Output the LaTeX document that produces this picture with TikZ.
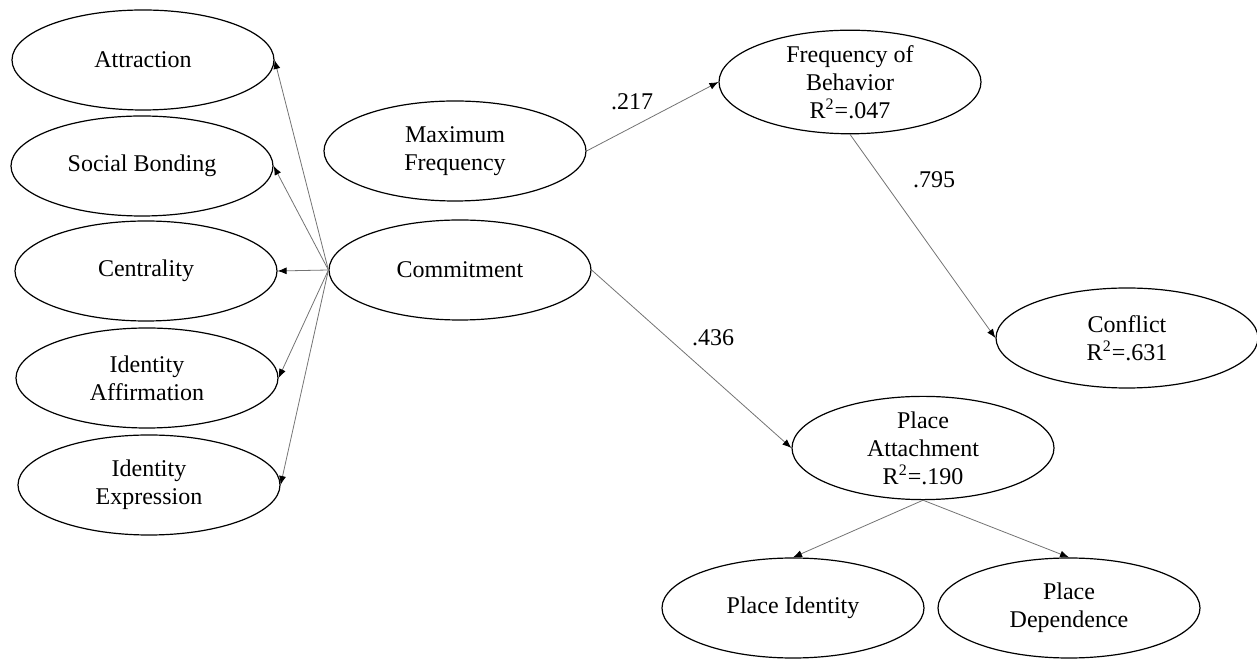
\documentclass[tikz,border=0pt]{standalone}
\usepackage{fontspec}
\setmainfont{Liberation Serif}
\usetikzlibrary{arrows.meta,shapes.geometric}

\begin{document}
\begin{tikzpicture}[x=5pt,y=5pt,
    latent/.style={draw, ellipse, line width=0.6pt, minimum width=131pt, minimum height=50pt,
      inner sep=0pt, align=center, font=\fontsize{12}{14}\selectfont},
    link/.style={draw=black!55, line width=0.4pt, -{Latex[length=4.5pt,width=3.5pt,color=black]}},
    coef/.style={font=\fontsize{12}{14}\selectfont}]
    \useasboundingbox (0,0) rectangle (125.7,65.8);

    % First-order dimensions
    \node[latent] (attr)  at (14.3,59.8) {Attraction};
    \node[latent] (soc)   at (14.2,49.2) {Social Bonding};
    \node[latent] (cent)  at (14.6,38.7) {Centrality};
    \node[latent] (idaff) at (14.7,28.0) {Identity\\Affirmation};
    \node[latent] (idexp) at (14.9,17.3) {Identity\\Expression};

    % Predictors
    \node[latent] (maxf) at (45.5,50.7) {Maximum\\Frequency};
    \node[latent] (comm) at (46.0,38.8) {Commitment};

    % Outcomes
    \node[latent] (freq)    at (85.0,57.6)  {Frequency of\\Behavior\\R\textsuperscript{2}=.047};
    \node[latent] (confl)   at (112.7,32.0) {Conflict\\R\textsuperscript{2}=.631};
    \node[latent] (pattach) at (92.3,21.0)  {Place\\Attachment\\R\textsuperscript{2}=.190};
    \node[latent] (pid)     at (79.3,5.0)   {Place Identity};
    \node[latent] (pdep)    at (106.9,5.0)  {Place\\Dependence};

    % Loadings
    \foreach \dim in {attr,soc,cent,idaff,idexp}
      \draw[link] (comm.west) -- (\dim.east);
    \draw[link] (pattach.south) -- (pid.north);
    \draw[link] (pattach.south) -- (pdep.north);

    % Structural paths
    \draw[link] (maxf.east) -- (freq.west);
    \draw[link] (freq.south) -- (confl.west);
    \draw[link] (comm.east) -- (pattach.west);

    % Path coefficients
    \node[coef] (w217) at (63.2,55.6) {.217};
    \node[coef] (w795) at (93.4,47.8) {.795};
    \node[coef] (w436) at (71.3,32.0) {.436};
\end{tikzpicture}
\end{document}
